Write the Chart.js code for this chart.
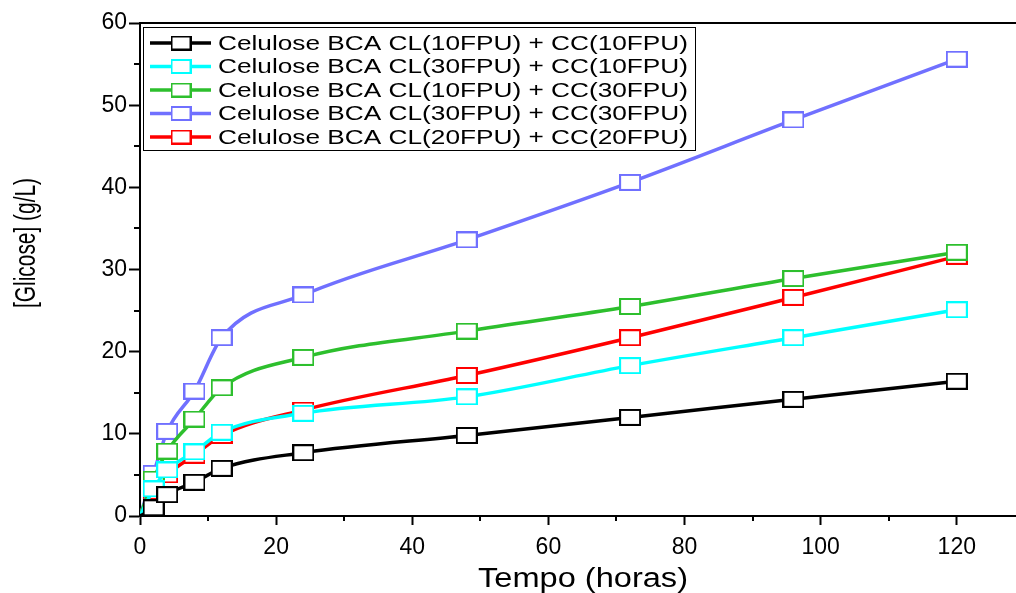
<!DOCTYPE html>
<html lang="pt">
<head>
<meta charset="UTF-8">
<title>Glicose x Tempo</title>
<script src="https://cdn.jsdelivr.net/npm/chart.js@4.4.0/dist/chart.umd.min.js"></script>
<style>
    html, body { margin: 0; padding: 0; background: #fff; }
    #contenedor { width: 1016px; height: 593px; }
</style>
</head>
<body>
<div id="contenedor"><canvas id="glicose-grafica"></canvas></div>
<script>
// dados (tempo em horas, glicose em g/L)
const tempos = [0, 2, 4, 8, 12, 24, 48, 72, 96, 120];
const cl10cc10 = [0, 1.0, 2.6, 4.1, 5.8, 7.7, 9.8, 12.0, 14.2, 16.4];
const cl30cc10 = [0, 3.3, 5.6, 7.8, 10.2, 12.5, 14.5, 18.3, 21.7, 25.1];
const cl10cc30 = [0, 4.5, 7.9, 11.8, 15.6, 19.3, 22.5, 25.5, 28.9, 32.1];
const cl30cc30 = [0, 5.2, 10.3, 15.2, 21.7, 26.9, 33.6, 40.6, 48.2, 55.6];
const cl20cc20 = [0, 3.0, 5.0, 7.4, 9.8, 12.9, 17.1, 21.7, 26.6, 31.6];

const nomes = [
    'Celulose BCA CL(10FPU) + CC(10FPU)',
    'Celulose BCA CL(30FPU) + CC(10FPU)',
    'Celulose BCA CL(10FPU) + CC(30FPU)',
    'Celulose BCA CL(30FPU) + CC(30FPU)',
    'Celulose BCA CL(20FPU) + CC(20FPU)'
];
const cores = ['#000000', '#00ffff', '#2dbf2d', '#7070ff', '#ff0000'];
const ticksX = [0, 20, 40, 60, 80, 100, 120];
const ticksY = [0, 10, 20, 30, 40, 50, 60];

const fonte = '"Liberation Sans", Arial, sans-serif';

function marcador(cor, w, h) {
    const c = document.createElement('canvas');
    c.width = w;
    c.height = h;
    const g = c.getContext('2d');
    g.fillStyle = '#fff';
    g.fillRect(0, 0, w, h);
    g.strokeStyle = cor;
    g.lineWidth = 2;
    g.strokeRect(1, 1, w - 2, h - 2);
    return c;
}

const series = [cl10cc10, cl30cc10, cl10cc30, cl30cc30, cl20cc20];

const datasets = series.map((valores, i) => ({
    label: nomes[i],
    data: tempos.map((t, j) => ({ x: t, y: valores[j] })),
    borderColor: cores[i],
    backgroundColor: '#fff',
    borderWidth: 3.5,
    pointStyle: marcador(cores[i], 22, 17),
    pointRadius: ctx => ctx.dataIndex === 0 ? 0 : 9,
    cubicInterpolationMode: 'monotone',
    tension: 0.4
}));

// marcas menores, moldura de cima, titulos e legenda
const extras = {
    id: 'extras',
    afterDraw(chart) {
        const ctx = chart.ctx;
        const area = chart.chartArea;
        const sx = chart.scales.x;
        const sy = chart.scales.y;
        ctx.save();
        ctx.strokeStyle = '#000';
        ctx.lineWidth = 2;
        ctx.beginPath();
        ctx.moveTo(area.left - 1, area.top);
        ctx.lineTo(area.right, area.top);
        for (let v = 10; v <= 120; v += 20) {
            const px = Math.round(sx.getPixelForValue(v));
            ctx.moveTo(px, area.bottom);
            ctx.lineTo(px, area.bottom + 5);
        }
        for (let v = 5; v < 60; v += 10) {
            const py = Math.round(sy.getPixelForValue(v));
            ctx.moveTo(area.left, py);
            ctx.lineTo(area.left - 6, py);
        }
        ctx.stroke();

        ctx.fillStyle = '#000';
        ctx.textAlign = 'center';
        ctx.textBaseline = 'middle';

        // titulo eixo y
        ctx.save();
        ctx.font = '30px ' + fonte;
        const tituloY = '[Glicose] (g/L)';
        ctx.translate(27, 243);
        ctx.rotate(-Math.PI / 2);
        ctx.scale(130 / ctx.measureText(tituloY).width, 1);
        ctx.fillText(tituloY, 0, 0);
        ctx.restore();

        // titulo eixo x
        ctx.save();
        ctx.font = '27px ' + fonte;
        const tituloX = 'Tempo (horas)';
        ctx.translate(583, 580);
        ctx.scale(210 / ctx.measureText(tituloX).width, 1);
        ctx.fillText(tituloX, 0, 0);
        ctx.restore();

        // legenda
        ctx.fillStyle = '#fff';
        ctx.fillRect(143.5, 27.5, 552, 123);
        ctx.lineWidth = 1;
        ctx.strokeRect(143.5, 27.5, 552, 123);
        ctx.font = '20px ' + fonte;
        const esticar = 470 / ctx.measureText(nomes[0]).width;
        chart.data.datasets.forEach((ds, i) => {
            const y = 43 + i * 23.5;
            ctx.strokeStyle = ds.borderColor;
            ctx.lineWidth = 3.5;
            ctx.beginPath();
            ctx.moveTo(150, y);
            ctx.lineTo(211, y);
            ctx.stroke();
            const m = marcador(ds.borderColor, 21, 15);
            ctx.drawImage(m, 181 - 10.5, y - 7.5);
            ctx.save();
            ctx.fillStyle = '#000';
            ctx.textAlign = 'left';
            ctx.translate(218, y + 1);
            ctx.scale(esticar, 1);
            ctx.fillText(ds.label, 0, 0);
            ctx.restore();
        });
        ctx.restore();
    }
};

const ctx = document.getElementById('glicose-grafica').getContext('2d');
const grafico = new Chart(ctx, {
    type: 'line',
    data: { datasets: datasets },
    options: {
        responsive: true,
        maintainAspectRatio: false,
        animation: false,
        layout: { autoPadding: false, padding: { top: 23, right: 0, left: 0, bottom: 0 } },
        plugins: {
            legend: { display: false },
            tooltip: { enabled: false }
        },
        scales: {
            x: {
                type: 'linear',
                min: 0,
                max: 128.7,
                afterBuildTicks: scale => {
                    const marcas = [];
                    for (let v = 0; v <= 120; v += 10) marcas.push({ value: v });
                    scale.ticks = marcas;
                },
                afterFit: scale => {
                    scale.height = 77;
                    scale.paddingLeft = 0;
                    scale.paddingRight = 0;
                },
                ticks: {
                    autoSkip: false,
                    maxRotation: 0,
                    padding: 9,
                    color: '#000',
                    font: { family: fonte, size: 23 },
                    callback: v => ticksX.includes(v) ? v : ''
                },
                grid: {
                    drawOnChartArea: false,
                    tickLength: 9,
                    tickWidth: 2,
                    tickColor: c => ticksX.includes(c.tick.value) ? '#000' : 'rgba(0,0,0,0)'
                },
                border: { color: '#000', width: 2 }
            },
            y: {
                min: 0,
                max: 60,
                afterFit: scale => {
                    scale.width = 140;
                    scale.paddingTop = 0;
                    scale.paddingBottom = 0;
                },
                ticks: {
                    stepSize: 5,
                    autoSkip: false,
                    padding: 2,
                    color: '#000',
                    font: { family: fonte, size: 23 },
                    callback: v => ticksY.includes(v) ? v : ''
                },
                grid: {
                    drawOnChartArea: false,
                    tickLength: 11,
                    tickWidth: 2,
                    tickColor: c => ticksY.includes(c.tick.value) ? '#000' : 'rgba(0,0,0,0)'
                },
                border: { color: '#000', width: 2 }
            }
        }
    },
    plugins: [extras]
});
</script>
</body>
</html>
